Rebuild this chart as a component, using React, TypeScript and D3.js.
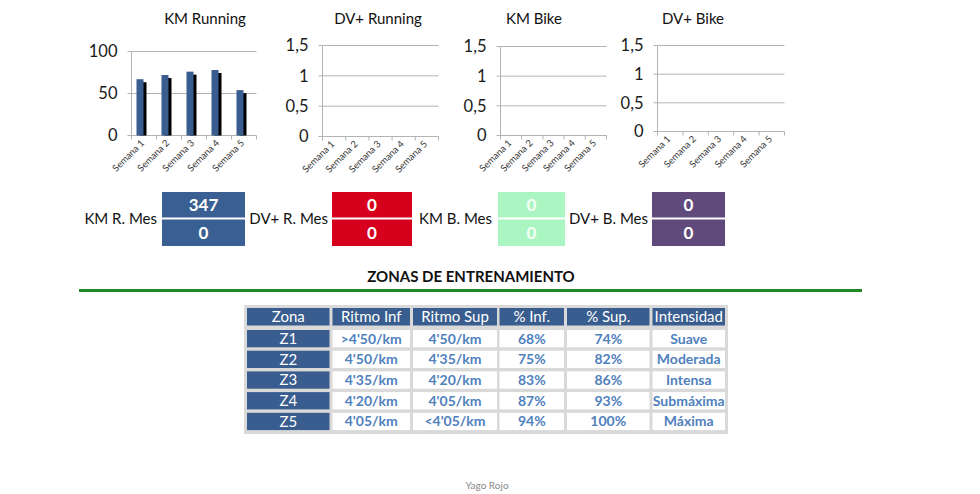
import React from "react";
import * as d3 from "d3";

// ---------- data ----------
const weeks = ["Semana 1", "Semana 2", "Semana 3", "Semana 4", "Semana 5"];
const kmRunning = [67, 72, 76, 78, 54];
const dvRunning = [0, 0, 0, 0, 0];
const kmBike = [0, 0, 0, 0, 0];
const dvBike = [0, 0, 0, 0, 0];
const runTicks = [0, 50, 100];
const smallTicks = [0, 0.5, 1, 1.5];

const summaryLabels = ["KM R. Mes", "DV+ R. Mes", "KM B. Mes", "DV+ B. Mes"];
const summaryTop = [347, 0, 0, 0];
const summaryBottom = [0, 0, 0, 0];

const tableHeaders = ["Zona", "Ritmo Inf", "Ritmo Sup", "% Inf.", "% Sup.", "Intensidad"];
const zones = ["Z1", "Z2", "Z3", "Z4", "Z5"];
const ritmoInf = [">4'50/km", "4'50/km", "4'35/km", "4'20/km", "4'05/km"];
const ritmoSup = ["4'50/km", "4'35/km", "4'20/km", "4'05/km", "<4'05/km"];
const pctInf = ["68%", "75%", "83%", "87%", "94%"];
const pctSup = ["74%", "82%", "86%", "93%", "100%"];
const intensidad = ["Suave", "Moderada", "Intensa", "Submáxima", "Máxima"];

// ---------- layout / style ----------
const FONT = "Lato, 'Open Sans', sans-serif";
const BLUE = "#395d8e";
const GRID = "#b3b3b3";

type Panel = {
  title: string;
  values: number[];
  ticks: number[];
  max: number;
  x0: number; x1: number; yTop: number; yBot: number; titleX: number;
};

const panels: Panel[] = [
  { title: "KM Running", values: kmRunning, ticks: runTicks, max: 100, x0: 131.5, x1: 256.5, yTop: 51.5, yBot: 135.5, titleX: 205 },
  { title: "DV+ Running", values: dvRunning, ticks: smallTicks, max: 1.5, x0: 322.5, x1: 438.5, yTop: 45.5, yBot: 136.5, titleX: 378 },
  { title: "KM Bike", values: kmBike, ticks: smallTicks, max: 1.5, x0: 500.5, x1: 606.5, yTop: 46.5, yBot: 135.5, titleX: 534 },
  { title: "DV+ Bike", values: dvBike, ticks: smallTicks, max: 1.5, x0: 657.5, x1: 784.5, yTop: 45.5, yBot: 131.5, titleX: 693 },
];

const fmt = (v: number) => String(v).replace(".", ",");

function BarPanel({ p }: { p: Panel }) {
  const x = d3.scaleBand<string>().domain(weeks).range([p.x0, p.x1]);
  const y = d3.scaleLinear().domain([0, p.max]).range([p.yBot, p.yTop]);
  const bw = 7;
  const bounds = [...weeks.map((w) => x(w)!), p.x1];
  return (
    <g>
      <text x={p.titleX} y={24} textAnchor="middle" fontSize={15} fill="#111">{p.title}</text>
      {p.ticks.map((t) => (
        <g key={t}>
          {t !== 0 && <line x1={p.x0} x2={p.x1} y1={y(t)} y2={y(t)} stroke={GRID} strokeWidth={1} />}
          <line x1={p.x0 - 4} x2={p.x0} y1={y(t)} y2={y(t)} stroke={GRID} />
          <text x={p.x0 - 14} y={y(t)} dy="0.35em" textAnchor="end" fontSize={16.5} fill="#1a1a1a">{fmt(t)}</text>
        </g>
      ))}
      <line x1={p.x0} x2={p.x0} y1={p.yTop} y2={p.yBot} stroke={GRID} />
      <line x1={p.x0} x2={p.x1} y1={p.yBot} y2={p.yBot} stroke={GRID} />
      {bounds.map((b, i) => (
        <line key={i} x1={b} x2={b} y1={p.yBot} y2={p.yBot + 4} stroke={GRID} />
      ))}
      {p.values.map((v, i) => {
        const cx = x(weeks[i])! + x.bandwidth() / 2;
        const top = y(v);
        if (v <= 0) return null;
        return (
          <g key={i}>
            <rect x={cx - bw + 2.5} y={top + 3} width={bw} height={p.yBot - top - 3} fill="#000" />
            <rect x={cx - bw - 0.5} y={top} width={bw} height={p.yBot - top} fill={BLUE} />
          </g>
        );
      })}
      {weeks.map((w) => {
        const cx = x(w)! + x.bandwidth() / 2 + 1;
        const ty = p.yBot + 8;
        return (
          <text key={w} x={cx} y={ty} textAnchor="end" fontSize={9.5} fill="#3a3a3a"
            transform={`rotate(-45, ${cx}, ${ty})`}>{w}</text>
        );
      })}
    </g>
  );
}

const boxes = [
  { lx: 157, bx: 162, bw: 83, color: "#3a5f92", text: "#fff" },
  { lx: 328, bx: 332, bw: 80, color: "#d6001c", text: "#fff" },
  { lx: 492, bx: 498, bw: 67, color: "#abf5c2", text: "#f4fff6" },
  { lx: 648, bx: 652, bw: 73, color: "#604a7b", text: "#fff" },
];

const colEdges = [247, 329.5, 332.5, 410, 413, 497, 499.5, 564, 567, 649.5, 652.5, 725];
const headerY = [308, 325.5];
const rowTop0 = 330;
const rowPitch = 20.7;
const rowH = 17.3;

export default function App() {
  const columns = [zones, ritmoInf, ritmoSup, pctInf, pctSup, intensidad];
  return (
    <svg width={980} height={494} style={{ position: "absolute", left: 0, top: 0, background: "#fff" }} fontFamily={FONT}>
      <rect width={980} height={494} fill="#fff" />
      {panels.map((p) => <BarPanel key={p.title} p={p} />)}

      {summaryLabels.map((l, i) => {
        const b = boxes[i];
        return (
          <g key={l}>
            <text x={b.lx} y={219} dy="0.35em" textAnchor="end" fontSize={15} fill="#111">{l}</text>
            <rect x={b.bx} y={192} width={b.bw} height={54} fill={b.color} />
            <line x1={b.bx} x2={b.bx + b.bw} y1={218.5} y2={218.5} stroke="#fff" strokeWidth={2} />
            <text x={b.bx + b.bw / 2} y={205} dy="0.35em" textAnchor="middle" fontSize={17} fontWeight="bold" fill={b.text}>{summaryTop[i]}</text>
            <text x={b.bx + b.bw / 2} y={233} dy="0.35em" textAnchor="middle" fontSize={17} fontWeight="bold" fill={b.text}>{summaryBottom[i]}</text>
          </g>
        );
      })}

      <text x={471} y={282} textAnchor="middle" fontSize={15} fontWeight="bold" fill="#111">ZONAS DE ENTRENAMIENTO</text>
      <line x1={79} x2={862} y1={290.5} y2={290.5} stroke="#228a22" strokeWidth={3} />

      <rect x={244} y={305} width={484} height={129} fill="#d9d9d9" />
      {tableHeaders.map((h, c) => {
        const x0 = colEdges[c * 2], x1 = colEdges[c * 2 + 1];
        return (
          <g key={h}>
            <rect x={x0} y={headerY[0]} width={x1 - x0} height={headerY[1] - headerY[0]} fill={BLUE} />
            <text x={(x0 + x1) / 2} y={(headerY[0] + headerY[1]) / 2} dy="0.36em" textAnchor="middle" fontSize={15} fill="#fff">{h}</text>
          </g>
        );
      })}
      {zones.map((z, r) => {
        const ty = rowTop0 + r * rowPitch;
        return columns.map((col, c) => {
          const x0 = colEdges[c * 2], x1 = colEdges[c * 2 + 1];
          const isZone = c === 0;
          return (
            <g key={`${r}-${c}`}>
              <rect x={x0} y={ty} width={x1 - x0} height={rowH} fill={isZone ? BLUE : "#fff"} />
              <text x={(x0 + x1) / 2} y={ty + rowH / 2} dy="0.36em" textAnchor="middle"
                fontSize={isZone ? 15 : 14} fontWeight={isZone ? "normal" : "bold"}
                fill={isZone ? "#fff" : "#4f81bd"}>{col[r]}</text>
            </g>
          );
        });
      })}

      <text x={487} y={485} dy="0.35em" textAnchor="middle" fontSize={10} fill="#888">Yago Rojo</text>
    </svg>
  );
}
